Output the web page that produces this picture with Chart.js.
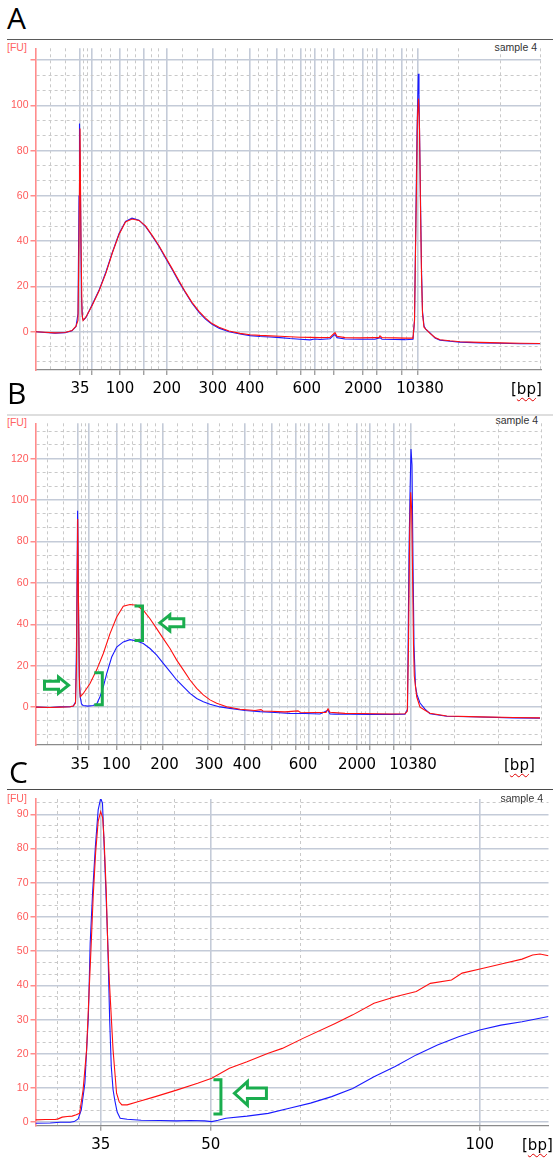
<!DOCTYPE html>
<html><head><meta charset="utf-8">
<script src="https://cdn.jsdelivr.net/npm/chart.js@4.4.0/dist/chart.umd.min.js"></script>
<style>
html,body{margin:0;padding:0;background:#fff;}
body{width:553px;height:1158px;position:relative;overflow:hidden;font-family:"Liberation Sans",Arial,sans-serif;}
.letter{position:absolute;left:7px;font-family:"Open Sans","Liberation Sans",sans-serif;font-size:30px;line-height:1;color:#000;}
.sep{position:absolute;left:7px;right:0;}
.fu{position:absolute;left:7px;font-size:10.5px;color:#ff6464;line-height:1;}
.sample{position:absolute;font-size:10.5px;color:#333;line-height:1;}
.bp{position:absolute;font-family:"DejaVu Sans",sans-serif;font-size:15px;color:#000;line-height:1;}
.bp span{text-decoration:underline wavy #e00000;text-decoration-thickness:1px;text-underline-offset:3px;}
canvas{position:absolute;left:0;}
</style></head>
<body>
<div class="letter" style="top:3px">A</div>
<div class="sep" style="top:39px;height:1px;background:#5a5a5a"></div>
<div class="fu" style="top:42px">[FU]</div>
<div class="sample" style="top:42px;right:16px">sample 4</div>
<canvas id="chartA" width="553" height="365" style="top:40px"></canvas>
<div class="bp" style="top:382px;left:511px">[<span>bp</span>]</div>

<div class="letter" style="top:378px">B</div>
<div class="sep" style="top:414px;height:1.5px;background:#dedede"></div>
<div class="fu" style="top:417px">[FU]</div>
<div class="sample" style="top:415px;right:15px">sample 4</div>
<canvas id="chartB" width="553" height="370" style="top:415px"></canvas>
<div class="bp" style="top:758px;left:504px">[<span>bp</span>]</div>

<div class="letter" style="top:757px;left:9px">C</div>
<div class="sep" style="top:789px;height:1px;background:#4a4a4a"></div>
<div class="fu" style="top:793px">[FU]</div>
<div class="sample" style="top:793px;right:10px">sample 4</div>
<canvas id="chartC" width="553" height="368" style="top:790px"></canvas>
<div class="bp" style="top:1138px;left:522px">[<span>bp</span>]</div>

<script>
// ---------- ladder / tick data (migration time, s) ----------
const ladderBp  = ['35','50','100','150','200','300','400','500','600','700','1000','2000','3000','7000','10380'];
const aLadderT  = [16,18.34,24,28.66,33.34,42.54,50,55.34,60.14,63,66.86,72.66,75.34,80.34,83.46];
const bLadderT  = [15.52,17.84,23.28,28.08,32.6,41.48,48.88,54.32,59.12,61.8,65.74,71.4,73.86,78.8,82.2];
const shownBp   = ['35','100','200','300','400','600','2000','10380'];
const aLabelT   = [16,24,33.34,42.54,50,61.34,72.66,84];
const bLabelT   = [16,23.28,32.9,41.8,49.4,60.6,71.4,82.6];
const aEdgeGridT = [10,13,91.8,100,108];
const bEdgeGridT = [9.52,12.7,91,99.68,108.2];
const cLadderBp = ['35','50','100'];
const cLadderT  = [28.01,30.212,35.594];
const cLabelT   = [28.01,30.212,35.594];
const cEdgeGridT = [27.15,27.588];

// ---------- panel A (sample 4, red / blue traces) ----------
const aRedT = [7.2,9,11,13,14.4,15.2,15.6,15.8,16,16.2,16.4,16.6,17.2,18.4,19.8,21.2,22.5,23.8,25.1,26.4,27.8,29.1,30.4,31.8,33.1,34.4,35.8,37.1,38.4,39.8,41.1,42.4,43.8,45.8,48,50,52,54,56,58,60,62,64,66,66.6,67,67.4,69,72,75,75.8,76,76.4,79,81,82.6,82.9,83.2,83.5,83.7,83.9,84.1,84.3,84.5,84.8,85.2,86,87,88,90,92,96,100,104,108];
const aRedV = [0,-0.2,-0.5,-0.3,0.5,2.5,5,40,89.8,40,8,5,6.5,11.5,18,26,35,43,48.5,49.8,49.2,46.8,42.7,38,33,28,22.5,17.5,13,9,6,3.6,2,0.3,-0.7,-1.3,-1.6,-1.8,-2,-2.2,-2.4,-2.5,-2.6,-2.5,-1.2,-0.4,-2,-2.6,-2.7,-2.6,-2.6,-1.8,-2.6,-2.7,-2.8,-2.8,5,50,95,103,90,55,25,8,2,1,-0.7,-2.5,-3.5,-4,-4.4,-4.7,-4.9,-5.1,-5.2];
const aBlueT = [7.2,9,11,13,14.4,15.2,15.6,15.8,15.9,16.1,16.3,16.5,16.7,17.2,18.4,19.8,21.2,22.5,23.8,25.1,26.4,27.8,29.1,30.4,31.8,33.1,34.4,35.8,37.1,38.4,39.8,41.1,42.4,43.8,45.8,48,50,52,54,56,58,60,62,63,64,66,66.6,67,67.4,69,72,75,76,76.4,79,81,82.6,82.9,83.2,83.4,83.66,83.8,84.06,84.3,84.5,84.8,85.2,86,87,88,90,92,96,100,104,108];
const aBlueV = [0,-0.3,-0.6,-0.4,0.4,2.3,8,60,92,60,15,6,5.2,6.3,11.8,18.3,26.5,35.3,43.3,48.8,50.2,49.3,46.5,42.4,37.7,32.6,27.6,22,17.2,12.6,8.6,5.6,3.3,1.6,0,-1,-1.7,-2.1,-2.3,-2.6,-3,-3.3,-3.6,-3.2,-3.4,-3.1,-1.8,-1.2,-2.6,-3.2,-3.3,-3.3,-2.6,-3.3,-3.4,-3.5,-3.3,5,55,88,114,105,65,28,9,2.5,1,-0.5,-2.8,-3.7,-4.2,-4.6,-4.9,-5.1,-5.3,-5.3];

// ---------- panel B ----------
const bRedT = [7.2,10,12,14,14.66,15.1,15.3,15.54,15.74,15.9,16.06,16.66,18,19.34,20.66,22,23.34,24.66,26,27.34,28.66,30,31.34,32.66,34,35.34,36.66,38,39.34,40.66,42,43.34,45.34,48,51,52.2,52.6,54,57,59.6,60,63,65.2,65.6,66,69,72,75,78,81,81.46,81.7,81.94,82.14,82.34,82.54,82.7,82.86,83.34,84,85,86,89.34,96,102.66,108];
const bRedV = [0,-0.2,0,0.2,0.5,2,20,90.9,40,10,5,6.6,11.4,18,25.9,35.5,43.5,48.7,49.6,49.2,46.8,42.7,37.9,33.1,28.3,22.7,18,13.1,9.1,5.9,3.5,1.9,0.2,-1,-1.6,-1.2,-1.9,-2,-2.3,-1.8,-2.5,-2.6,-2.6,-0.8,-2.5,-3,-3.1,-3.2,-3.3,-3.2,-2,30,85,103.8,95,60,30,15,5,0,-1.5,-3,-4.3,-4.7,-5,-5.2];
const bBlueT = [7.2,10,12,14,14.66,15.1,15.3,15.52,15.7,15.86,16.04,16.3,16.6,17.6,18.6,19.34,20,20.66,21.34,22.34,23.34,24.66,26,27.34,28.66,30,31.34,32.66,34,35.34,36.66,38,39.34,40.66,42,44,46,49,52,55,58,61,64,65.6,66,67,70,74,78,81,81.5,81.8,82,82.2,82.4,82.6,82.8,83.1,83.4,84,85,86,89.34,96,102.66,108];
const bBlueV = [0,-0.2,0.1,0.2,0.5,2.5,30,94.9,50,15,5,1.5,0.8,0.5,0.8,1.5,5,9.8,16.2,24.2,29,31.5,32.6,31.9,30.7,28.3,25.1,21.1,17.1,13.1,9.9,6.6,4.2,2.6,1.4,0.1,-0.6,-1.6,-2.2,-2.6,-3,-3.1,-3.3,-1.5,-3.3,-3.4,-3.4,-3.5,-3.5,-3.4,-1,75,103,124.7,117,70,30,10,6,2,-1,-3.2,-4.4,-4.8,-5.2,-5.3];

// ---------- panel C (zoom on 35-100 bp) ----------
const cRedT = [26.706,26.9,27.1,27.16,27.24,27.34,27.44,27.52,27.588,27.658,27.728,27.778,27.82,27.86,27.91,27.96,28.01,28.05,28.08,28.12,28.152,28.186,28.258,28.328,28.38,28.434,28.54,28.752,29.104,29.528,29.95,30.232,30.586,30.938,31.362,31.644,32.068,32.702,33.054,33.478,33.902,34.324,34.606,35.03,35.242,35.664,36.088,36.44,36.652,36.8,36.97];
const cRedV = [0.7,0.8,0.8,1,1.5,1.7,1.8,2.2,2.6,9.4,21.1,38,52,66,79,88,90.8,89,82,68,52,40.6,21.1,8.5,6,5.1,5.1,6,7.5,9.4,11.4,12.9,15.8,17.7,20.2,21.6,24.6,28.9,31.4,34.8,36.7,38.2,40.6,41.6,43.6,45,46.5,47.7,48.9,49.2,48.7];
const cBlueT = [26.706,27,27.2,27.4,27.48,27.56,27.622,27.694,27.764,27.8,27.848,27.904,27.96,28.01,28.046,28.08,28.116,28.152,28.19,28.222,28.258,28.292,28.34,28.4,28.54,28.82,29.2,29.528,29.8,30.092,30.232,30.36,30.514,30.938,31.362,31.784,32.208,32.632,33.054,33.478,33.902,34.324,34.748,35.172,35.594,36.018,36.44,36.97];
const cBlueV = [-0.3,-0.2,0,0,0.2,1,3.6,11.4,30.9,52.3,67,80.6,91.3,94.7,93.3,80.6,67,52.3,30,16.3,9.5,6.5,3,1.2,0.9,0.6,0.5,0.4,0.5,0.4,0.2,0.6,1.2,1.8,2.6,4.1,5.6,7.5,9.9,13.3,16.3,19.7,22.6,25,27,28.4,29.4,30.9];

// ---------- green annotation marks (anchored in data units) ----------
const bBrackets = [{t:28.5, top:48.9, bottom:32.2}, {t:20.46, top:16.6, bottom:1.2}];
const bArrows   = [{t:13.7, v:10.6, dir:1}, {t:31.96, v:40.7, dir:-1}];
const cBrackets = [{t:30.416, top:12.4, bottom:2.4}];
const cArrows   = [{t:30.686, v:8.48, dir:-1}];

const GREEN = '#1aad4e';
function greenPlugin(brackets, arrows, arrowSize, arm) {
  return {
    id: 'greenMarks',
    afterDatasetsDraw(chart) {
      const {ctx, scales: {x, y}} = chart;
      ctx.save();
      ctx.strokeStyle = GREEN; ctx.lineWidth = 3; ctx.lineJoin = 'miter'; ctx.lineCap = 'butt';
      brackets.forEach(b => {
        const px = x.getPixelForValue(b.t), p1 = y.getPixelForValue(b.top), p2 = y.getPixelForValue(b.bottom);
        ctx.beginPath(); ctx.moveTo(px - arm, p1); ctx.lineTo(px, p1); ctx.lineTo(px, p2); ctx.lineTo(px - arm, p2); ctx.stroke();
      });
      arrows.forEach(a => {
        const tx = x.getPixelForValue(a.t), ty = y.getPixelForValue(a.v), d = a.dir;
        const L = arrowSize.len, H = arrowSize.head, hh = arrowSize.headH / 2, bh = arrowSize.bodyH / 2;
        ctx.beginPath();
        ctx.moveTo(tx, ty); ctx.lineTo(tx - d * H, ty - hh); ctx.lineTo(tx - d * H, ty - bh);
        ctx.lineTo(tx - d * L, ty - bh); ctx.lineTo(tx - d * L, ty + bh); ctx.lineTo(tx - d * H, ty + bh);
        ctx.lineTo(tx - d * H, ty + hh); ctx.closePath();
        ctx.fillStyle = '#fff'; ctx.fill(); ctx.stroke();
      });
      ctx.restore();
    }
  };
}

function buildXTicks(ladderT, edgeT, labelT, labels) {
  const ticks = [];
  ladderT.forEach(v => ticks.push({value: v, kind: 'major', text: ''}));
  for (let i = 0; i < ladderT.length - 1; i++) {
    const a = ladderT[i], b = ladderT[i + 1];
    ticks.push({value: a + (b - a) / 3, kind: 'minor', text: ''});
    ticks.push({value: a + 2 * (b - a) / 3, kind: 'minor', text: ''});
  }
  edgeT.forEach(v => ticks.push({value: v, kind: 'minor', text: ''}));
  labelT.forEach((v, i) => ticks.push({value: v, kind: 'label', text: labels[i]}));
  ticks.sort((p, q) => p.value - q.value);
  return ticks;
}
function buildYTicks(min, max, major, maxLabel) {
  const step = major / 3, ticks = [];
  for (let k = Math.ceil(min / step); k * step <= max + 1e-9; k++) {
    const v = +(k * step).toFixed(6), isMajor = (k % 3 === 0);
    ticks.push({value: v, kind: isMajor ? 'major' : 'minor', text: (isMajor && v >= 0 && v <= maxLabel) ? String(Math.round(v)) : ''});
  }
  return ticks;
}

const SOLID = '#c4cbd8', DASH = '#c9c9c9';
const kindOf = c => (c && c.tick) ? c.tick.kind : null;

function makeChart(id, o) {
  const pts = (T, V) => T.map((t, i) => ({x: t, y: V[i]}));
  return new Chart(document.getElementById(id), {
    type: 'line',
    data: {datasets: [
      {data: pts(o.redT, o.redV), borderColor: '#ff1010', borderWidth: 1.1, pointRadius: 0, tension: 0},
      {data: pts(o.blueT, o.blueV), borderColor: '#1a1aff', borderWidth: 1.1, pointRadius: 0, tension: 0}
    ]},
    options: {
      responsive: false, animation: false, devicePixelRatio: 1,
      layout: {padding: {top: o.padTop, right: o.padRight, left: 0, bottom: 0}},
      plugins: {legend: {display: false}, tooltip: {enabled: false}},
      scales: {
        x: {
          type: 'linear', min: o.xMin, max: o.xMax, bounds: 'data',
          afterBuildTicks: s => { s.ticks = o.xTicks.map(t => Object.assign({}, t)); },
          afterFit: s => { s.height = o.xAxisH; },
          ticks: {autoSkip: false, maxRotation: 0, minRotation: 0, padding: o.xPad, color: '#000',
                  font: {family: 'DejaVu Sans', size: 15}, callback: (v, i, ts) => ts[i].text},
          grid: {drawTicks: true, tickLength: 5,
                 color: c => kindOf(c) === 'major' ? SOLID : (kindOf(c) === 'minor' ? DASH : 'rgba(0,0,0,0)'),
                 lineWidth: c => kindOf(c) === 'major' ? 1.6 : 1,
                 tickColor: c => kindOf(c) === 'major' ? '#7a7a7a' : 'rgba(0,0,0,0)', tickWidth: 1},
          border: {display: true, color: '#8a8a8a', width: 1.3, dash: c => kindOf(c) === 'minor' ? [3, 3] : []}
        },
        y: {
          type: 'linear', min: o.yMin, max: o.yMax, bounds: 'data',
          afterBuildTicks: s => { s.ticks = o.yTicks.map(t => Object.assign({}, t)); },
          afterFit: s => { s.width = 35.5; },
          ticks: {autoSkip: false, padding: 2, color: '#ff5a5a',
                  font: {family: 'Liberation Sans', size: 10.5}, callback: (v, i, ts) => ts[i].text},
          grid: {drawTicks: true, tickLength: 5,
                 color: c => kindOf(c) === 'major' ? SOLID : DASH,
                 lineWidth: c => kindOf(c) === 'major' ? 1.6 : 1,
                 tickColor: c => kindOf(c) === 'major' ? '#ff7070' : 'rgba(0,0,0,0)', tickWidth: 1.2},
          border: {display: true, color: '#ff8c8c', width: 1.6, dash: c => kindOf(c) === 'minor' ? [3, 3] : []}
        }
      }
    },
    plugins: [greenPlugin(o.brackets || [], o.arrows || [], o.arrowSize || {}, o.arm || 8)]
  });
}

makeChart('chartA', {
  redT: aRedT, redV: aRedV, blueT: aBlueT, blueV: aBlueV,
  xMin: 7.1, xMax: 108.2, yMin: -16.9, yMax: 125.25,
  xTicks: buildXTicks(aLadderT, aEdgeGridT, aLabelT, shownBp),
  yTicks: buildYTicks(-16.9, 125.25, 20, 100),
  padTop: 8, padRight: 12, xAxisH: 35, xPad: 5
});
makeChart('chartB', {
  redT: bRedT, redV: bRedV, blueT: bBlueT, blueV: bBlueV,
  xMin: 7.1, xMax: 108.2, yMin: -18.3, yMax: 137.1,
  xTicks: buildXTicks(bLadderT, bEdgeGridT, bLabelT, shownBp),
  yTicks: buildYTicks(-18.3, 137.1, 20, 120),
  padTop: 7.5, padRight: 12, xAxisH: 40, xPad: 6,
  brackets: bBrackets, arrows: bArrows, arm: 8,
  arrowSize: {len: 24, head: 10, headH: 16, bodyH: 8}
});
makeChart('chartC', {
  redT: cRedT, redV: cRedV, blueT: cBlueT, blueV: cBlueV,
  xMin: 26.706, xMax: 36.97, yMin: -1, yMax: 94.5,
  xTicks: buildXTicks(cLadderT, cEdgeGridT, cLabelT, cLadderBp),
  yTicks: buildYTicks(-1, 94.5, 10, 90),
  padTop: 9, padRight: 4.5, xAxisH: 32.3, xPad: 5,
  brackets: cBrackets, arrows: cArrows, arm: 7.5,
  arrowSize: {len: 32, head: 13, headH: 23.5, bodyH: 10.5}
});
</script>
</body></html>
